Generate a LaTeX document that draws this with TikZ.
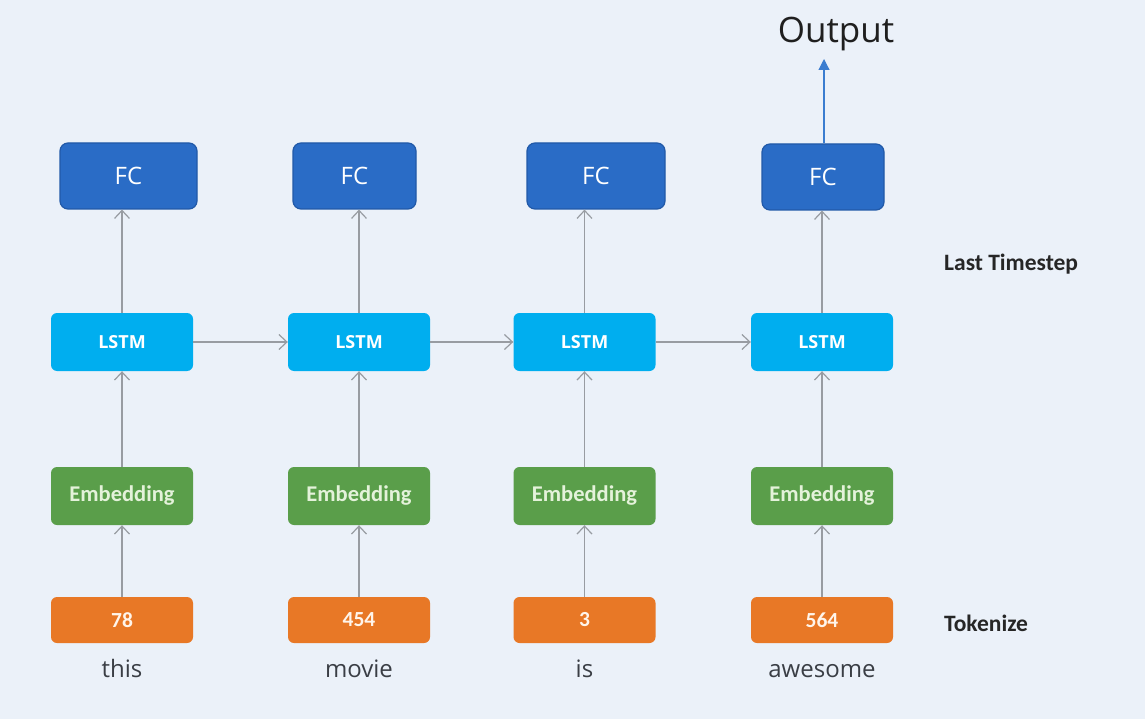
\documentclass[tikz,border=0pt]{standalone}
\usepackage{fontspec}
\setmainfont{Open Sans}
\newfontfamily\carl{Carlito}
\usetikzlibrary{arrows.meta}
\definecolor{bg}{HTML}{EBF1F9}
\definecolor{fcfill}{HTML}{2A6CC6}
\definecolor{fcdraw}{HTML}{2159A8}
\definecolor{lstmfill}{HTML}{00AEEF}
\definecolor{embfill}{HTML}{5A9E4A}
\definecolor{embtext}{HTML}{E4F2DA}
\definecolor{tokfill}{HTML}{E87826}
\definecolor{linegray}{HTML}{989CA2}
\definecolor{outblue}{HTML}{3B7DD0}
\definecolor{wordgray}{HTML}{3A3E45}
\tikzset{
  fcbox/.style={rectangle, rounded corners=8pt, fill=fcfill, draw=fcdraw, line width=1.2pt,
    minimum height=66pt, inner sep=0pt, text=white, font=\fontsize{24}{26}\selectfont},
  lstmbox/.style={rectangle, rounded corners=6pt, fill=lstmfill, minimum width=142pt,
    minimum height=58pt, inner sep=0pt, text=white, font=\bfseries\fontsize{18}{20}\selectfont},
  embbox/.style={rectangle, rounded corners=6pt, fill=embfill, minimum width=142pt,
    minimum height=58pt, inner sep=0pt, text=embtext, font=\carl\bfseries\fontsize{22.5}{24}\selectfont},
  tokbox/.style={rectangle, rounded corners=6pt, fill=tokfill, minimum width=142pt,
    minimum height=46pt, inner sep=0pt, text=white!92!orange, font=\carl\bfseries\fontsize{21.5}{23}\selectfont},
  wordlbl/.style={anchor=base, text=wordgray, font=\fontsize{24}{26}\selectfont, inner sep=0pt},
  sidelbl/.style={anchor=west, text=black!85, font=\carl\bfseries\fontsize{23.5}{25}\selectfont, inner sep=0pt},
  conn/.style={draw=linegray, line width=1.2pt, -{Straight Barb[length=8pt,width=15pt,line width=1.2pt]}},
  outarrow/.style={draw=outblue, line width=1.1pt, -{Triangle[length=11pt,width=11pt]}}
}
\begin{document}
\begin{tikzpicture}[x=1pt,y=-1pt]
\fill[bg] (0,0) rectangle (1145,719);
\useasboundingbox (0,0) rectangle (1145,719);

% FC row
\node[fcbox, minimum width=137pt] (f1) at (128.5,176) {FC};
\node[fcbox, minimum width=123pt] (f2) at (354.5,176) {FC};
\node[fcbox, minimum width=138pt] (f3) at (596,176) {FC};
\node[fcbox, minimum width=122pt] (f4) at (823,177) {FC};

% LSTM row
\node[lstmbox] (l1) at (122,342) {LSTM};
\node[lstmbox] (l2) at (359,342) {LSTM};
\node[lstmbox] (l3) at (584.5,342) {LSTM};
\node[lstmbox] (l4) at (822,342) {LSTM};

% Embedding row
\node[embbox] (e1) at (122,496) {Embedding};
\node[embbox] (e2) at (359,496) {Embedding};
\node[embbox] (e3) at (584.5,496) {Embedding};
\node[embbox] (e4) at (822,496) {Embedding};

% Token row
\node[tokbox] (t1) at (122,620) {78};
\node[tokbox] (t2) at (359,620) {454};
\node[tokbox] (t3) at (584.5,620) {3};
\node[tokbox] (t4) at (822,620) {564};

% Words
\node[wordlbl] (w1) at (122,677) {this};
\node[wordlbl] (w2) at (359,677) {movie};
\node[wordlbl] (w3) at (584.5,677) {is};
\node[wordlbl] (w4) at (822,677) {awesome};

% Output
\node[anchor=base, text=black!88, font=\fontsize{35}{38}\selectfont, inner sep=0pt] (out) at (836,43) {Output};
\coordinate (outtip) at (824,59);
\draw[outarrow] (f4.north -| outtip) -- (outtip);

% Side labels
\node[sidelbl] (lt) at (944,264) {Last Timestep};
\node[sidelbl] (tk) at (944,623) {Tokenize};

% Vertical connectors
\foreach \i in {1,2,3,4}{
  \draw[conn] (t\i.north) -- (e\i.south);
  \draw[conn] (e\i.north) -- (l\i.south);
  \draw[conn] (l\i.north) -- (l\i.north |- f\i.south);
}
% Horizontal connectors
\draw[conn] (l1.east) -- (l2.west);
\draw[conn] (l2.east) -- (l3.west);
\draw[conn] (l3.east) -- (l4.west);
\end{tikzpicture}
\end{document}
